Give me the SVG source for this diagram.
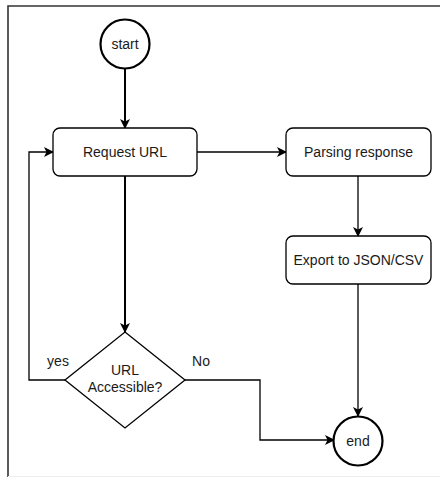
<svg xmlns="http://www.w3.org/2000/svg" width="440" height="477" viewBox="0 0 440 477">
  <style>
    .node { fill: #ffffff; stroke: #000000; stroke-width: 1.3; }
    .term { fill: #ffffff; stroke: #000000; stroke-width: 2.2; }
    .label { font-family: "Liberation Sans", Arial, sans-serif; font-size: 14px; fill: #1a1a1a; text-anchor: middle; dominant-baseline: central; }
    .edge { fill: none; stroke: #000000; stroke-width: 1.3; }
    .edge-bold { fill: none; stroke: #000000; stroke-width: 2; }
  </style>
  <defs>
    <marker id="arrow" viewBox="0 0 10 10" refX="9" refY="5" markerWidth="10" markerHeight="10" markerUnits="userSpaceOnUse" orient="auto">
      <path d="M0,0 L10,5 L0,10 L2.5,5 Z" fill="#000000"/>
    </marker>
  </defs>

  <rect x="0" y="0" width="440" height="477" fill="#ffffff"/>
  <!-- page frame -->
  <path d="M8,477 V6 H440" fill="none" stroke="#333333" stroke-width="1.6"/>
  <line x1="8" y1="476.5" x2="440" y2="476.5" stroke="#eeeeee" stroke-width="1"/>

  <g id="connectors">
    <line class="edge-bold" x1="125" y1="69" x2="125" y2="128" marker-end="url(#arrow)"/>
    <line class="edge" x1="197" y1="152" x2="286" y2="152" marker-end="url(#arrow)"/>
    <line class="edge" x1="358" y1="176" x2="358" y2="236" marker-end="url(#arrow)"/>
    <line class="edge" x1="358" y1="284" x2="358" y2="416" marker-end="url(#arrow)"/>
    <line class="edge-bold" x1="125" y1="176" x2="125" y2="332" marker-end="url(#arrow)"/>
    <polyline class="edge" points="65,380 29,380 29,152 53,152" marker-end="url(#arrow)"/>
    <polyline class="edge" points="185,380 260,380 260,440 334,440" marker-end="url(#arrow)"/>
    <text class="label" x="58" y="361">yes</text>
    <text class="label" x="201" y="361">No</text>
  </g>

  <g id="start">
    <circle class="term" cx="125" cy="44" r="24.5"/>
    <text class="label" x="125" y="44">start</text>
  </g>

  <g id="request-url">
    <rect class="node" x="53" y="128" width="144" height="48" rx="7"/>
    <text class="label" x="125" y="152">Request URL</text>
  </g>

  <g id="parsing-response">
    <rect class="node" x="286" y="128" width="145" height="48" rx="7"/>
    <text class="label" x="358.5" y="152">Parsing response</text>
  </g>

  <g id="export">
    <rect class="node" x="286" y="236" width="145" height="48" rx="7"/>
    <text class="label" x="358.5" y="260">Export to JSON/CSV</text>
  </g>

  <g id="url-accessible">
    <polygon class="node" points="125,332 185,380 125,428 65,380"/>
    <text class="label" x="125" y="370">URL</text>
    <text class="label" x="125" y="387">Accessible?</text>
  </g>

  <g id="end">
    <circle class="term" cx="358" cy="441" r="24.5"/>
    <text class="label" x="358" y="441">end</text>
  </g>
</svg>
